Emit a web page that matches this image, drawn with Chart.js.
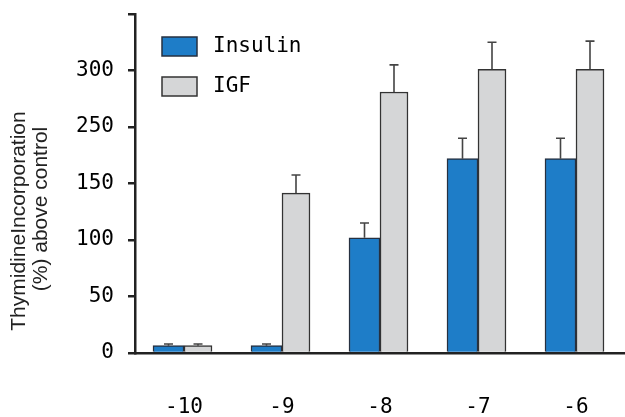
<!DOCTYPE html>
<html>
<head>
<meta charset="utf-8">
<script src="https://cdn.jsdelivr.net/npm/chart.js@4"></script>
<style>
  html, body { margin: 0; padding: 0; background: #fff; }
  #wrap { width: 625px; height: 417px; }
</style>
</head>
<body>
<div id="wrap"><canvas id="myChart"></canvas></div>
<script>
// data (y values in axis units, ticks are labelled oddly in the source)
const doses = ["-10", "-9", "-8", "-7", "-6"];
const insulin = [6.5, 6.5, 102, 172, 172];
const insulinErr = [1.5, 1.5, 13, 18, 18];
const igf = [6.5, 141.5, 231, 251, 251];
const igfErr = [1.5, 16, 24, 24, 25];
const yTickLabels = ["0", "50", "100", "150", "250", "300", ""];

const mono = "'DejaVu Sans Mono', monospace";

// error bars, upward only
const errorBars = {
  id: "errorBars",
  afterDatasetsDraw(chart) {
    const ctx = chart.ctx;
    const y = chart.scales.y;
    ctx.save();
    ctx.strokeStyle = "#444";
    ctx.lineWidth = 1.6;
    chart.data.datasets.forEach((ds, di) => {
      const meta = chart.getDatasetMeta(di);
      meta.data.forEach((bar, i) => {
        const top = y.getPixelForValue(ds.data[i] + ds.errors[i]);
        ctx.beginPath();
        ctx.moveTo(bar.x, bar.y);
        ctx.lineTo(bar.x, top);
        ctx.moveTo(bar.x - 4.5, top);
        ctx.lineTo(bar.x + 4.5, top);
        ctx.stroke();
      });
    });
    ctx.restore();
  }
};

// legend inside the plot + two-line y title
const extras = {
  id: "extras",
  afterDraw(chart) {
    const ctx = chart.ctx;
    ctx.save();
    chart.data.datasets.forEach((ds, i) => {
      const top = 37 + i * 40;
      ctx.fillStyle = ds.backgroundColor;
      ctx.strokeStyle = ds.borderColor;
      ctx.lineWidth = 1.5;
      ctx.fillRect(162, top, 35, 19);
      ctx.strokeRect(162, top, 35, 19);
      ctx.fillStyle = "#000";
      ctx.font = "21px " + mono;
      ctx.textBaseline = "middle";
      ctx.textAlign = "left";
      ctx.fillText(ds.label, 213, top + 10);
    });
    ctx.font = "21px 'Liberation Sans', Arial, sans-serif";
    ctx.fillStyle = "#222";
    ctx.textAlign = "center";
    ctx.textBaseline = "middle";
    ctx.save();
    ctx.translate(19, 221);
    ctx.rotate(-Math.PI / 2);
    ctx.fillText("ThymidineIncorporation", 0, 0);
    ctx.restore();
    ctx.save();
    ctx.translate(41, 209);
    ctx.rotate(-Math.PI / 2);
    ctx.fillText("(%) above control", 0, 0);
    ctx.restore();
    ctx.restore();
  }
};

let myChart = document.getElementById("myChart").getContext("2d");

let doseChart = new Chart(myChart, {
  type: "bar",
  data: {
    labels: doses,
    datasets: [
      {
        label: "Insulin",
        data: insulin,
        errors: insulinErr,
        backgroundColor: "#1E7DC8",
        borderColor: "#263040",
        borderWidth: 1.5,
        barThickness: 31,
      },
      {
        label: "IGF",
        data: igf,
        errors: igfErr,
        backgroundColor: "#D5D6D7",
        borderColor: "#333",
        borderWidth: 1.5,
        barThickness: 28,
      },
    ],
  },
  options: {
    responsive: true,
    maintainAspectRatio: false,
    animation: false,
    layout: { padding: { top: 14, right: 0, bottom: 0, left: 0 } },
    categoryPercentage: 0.602,
    plugins: {
      legend: { display: false },
      tooltip: { enabled: false },
    },
    scales: {
      x: {
        z: 1,
        grid: { display: true, drawOnChartArea: false, drawTicks: false },
        border: { display: true, color: "#222", width: 2.5 },
        ticks: { color: "#000", font: { family: mono, size: 21 }, padding: 42 },
        afterFit(scale) {
          scale.height = 64;
          scale.paddingLeft = 0;
          scale.paddingRight = 0;
        },
      },
      y: {
        z: 1,
        min: 0,
        max: 300,
        grid: { display: true, drawOnChartArea: false, drawTicks: true, tickLength: 7, color: "#222", lineWidth: 2.5 },
        border: { display: true, color: "#222", width: 2.5 },
        ticks: {
          stepSize: 50,
          color: "#000",
          padding: 14,
          font: { family: mono, size: 21 },
          callback: (v, i) => yTickLabels[i],
        },
        afterFit(scale) {
          scale.width = 135;
          scale.paddingTop = 0;
          scale.paddingBottom = 0;
        },
      },
    },
  },
  plugins: [errorBars, extras],
});
</script>
</body>
</html>
